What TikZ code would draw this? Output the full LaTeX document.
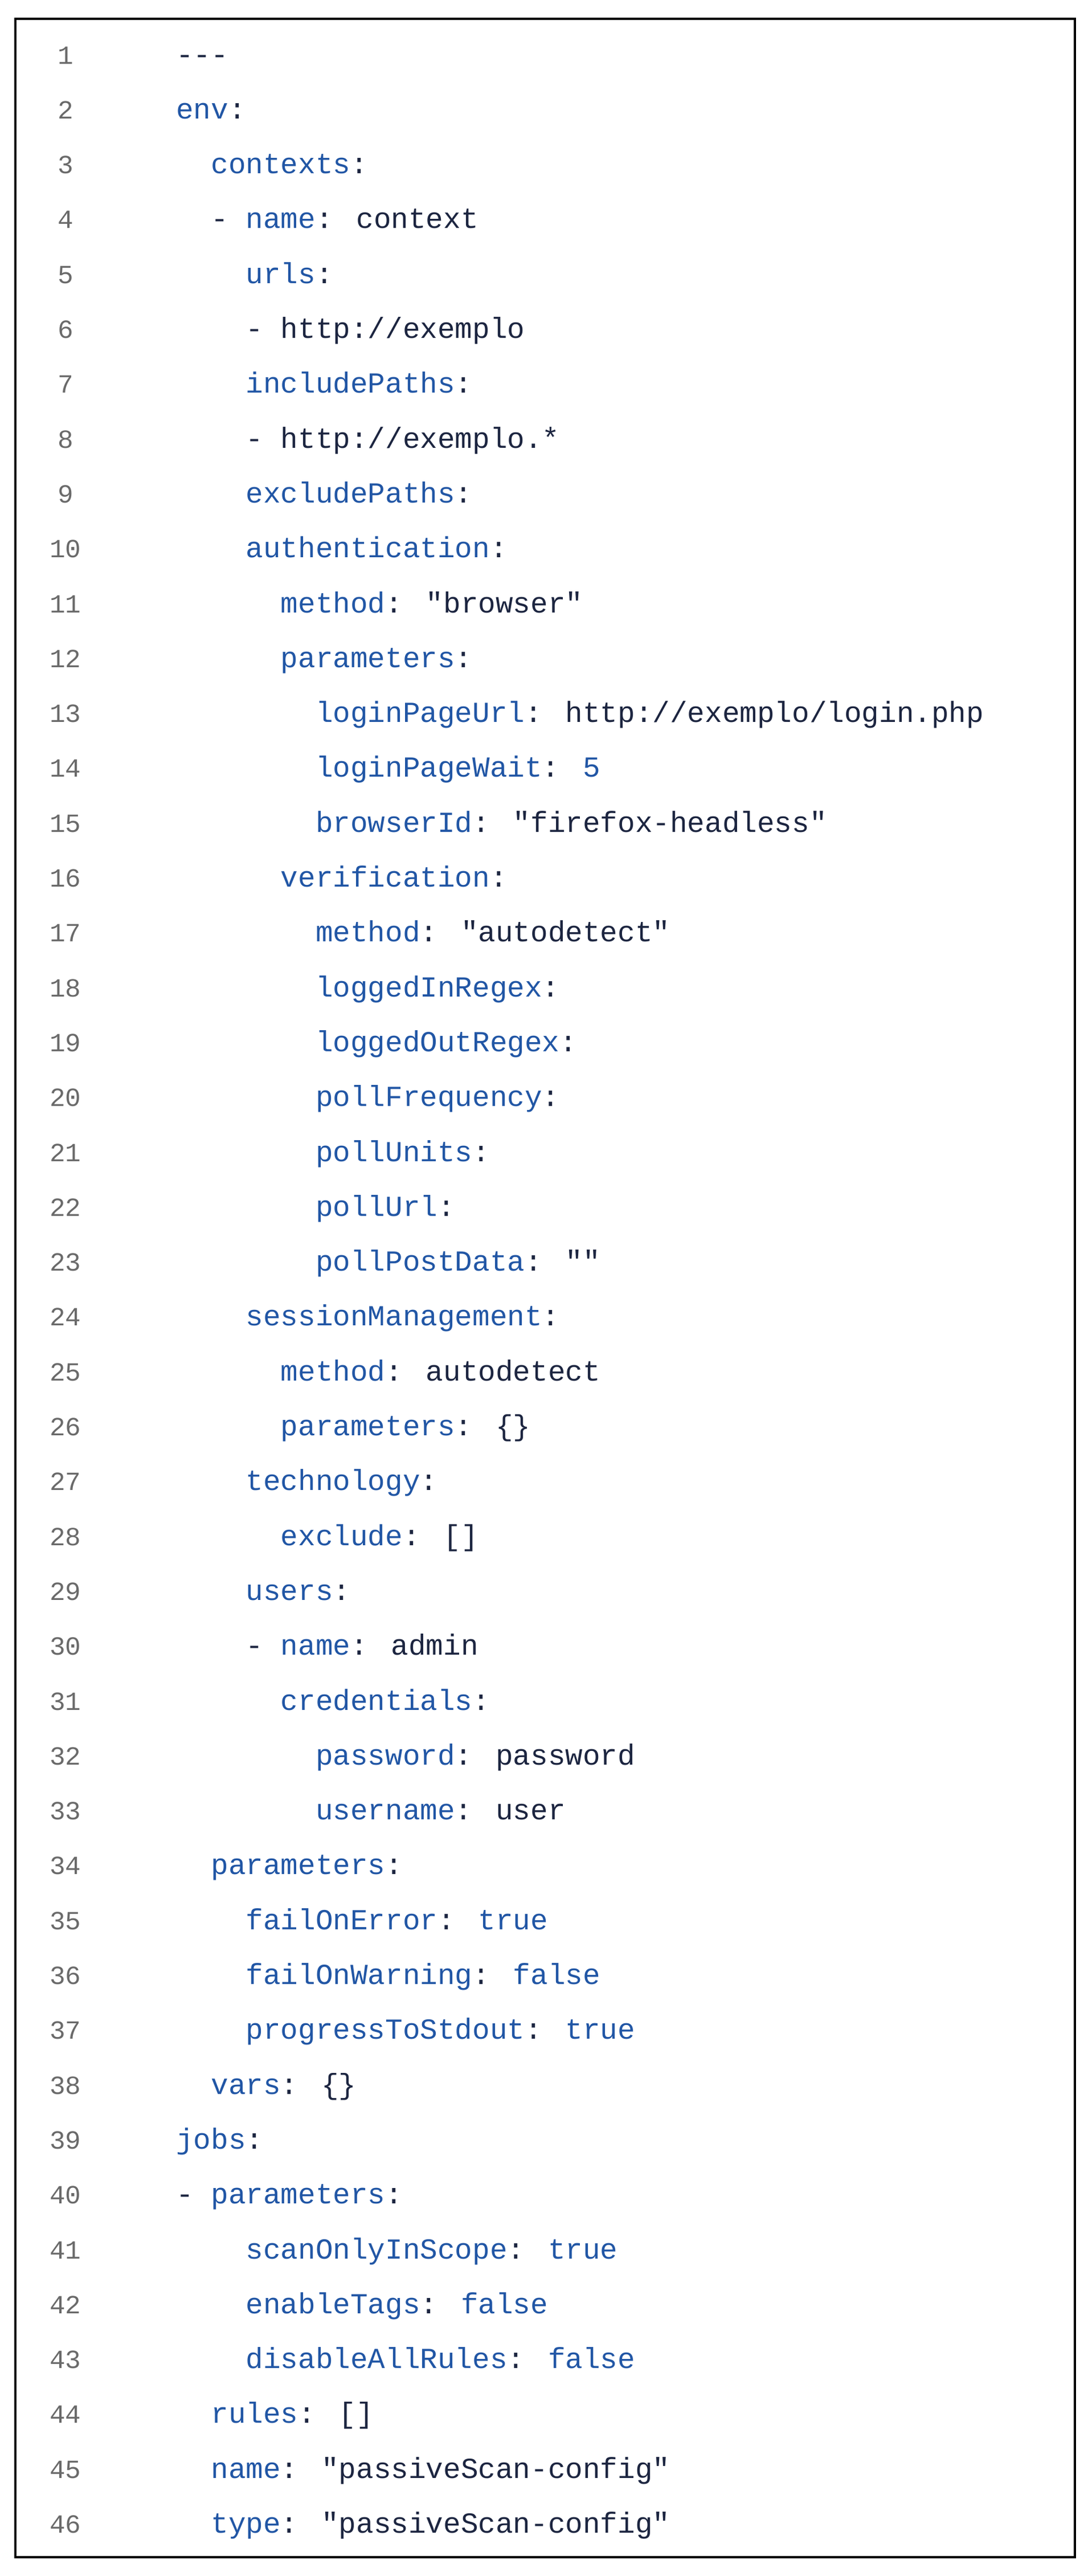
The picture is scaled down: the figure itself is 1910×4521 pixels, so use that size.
\documentclass[tikz,border=0pt]{standalone}
\usepackage{fontspec}
\newfontfamily\codefont{Liberation Mono}
\definecolor{keyc}{HTML}{2156A5}
\definecolor{valc}{HTML}{1C2540}
\definecolor{numc}{HTML}{6A6A6A}
\newcommand\K[1]{\textcolor{keyc}{#1}}
\newcommand\B[1]{\textcolor{keyc}{#1}}
\begin{document}
\begin{tikzpicture}[x=1pt,y=-1pt,
  code/.style={anchor=base west,inner sep=0pt,font=\codefont\fontsize{51}{51}\selectfont,text=valc},
  num/.style={anchor=base,inner sep=0pt,font=\codefont\fontsize{46}{46}\selectfont,text=numc}]
\useasboundingbox (0,0) rectangle (1910,4521);
\draw[line width=3.5pt] (27,33) rectangle (1887,4488);
\newcommand\cl[3]{%
  \node[num] (n#1) at (115,{112+(#1-1)*96.3}) {#1};
  \node[code] (c#1) at ({309+#2*30.6},{112+(#1-1)*96.3}) {#3};}
\cl{1}{0}{-{}-{}-}
\cl{2}{0}{\K{env}:}
\cl{3}{2}{\K{contexts}:}
\cl{4}{2}{- \K{name}: context}
\cl{5}{4}{\K{urls}:}
\cl{6}{4}{- http://exemplo}
\cl{7}{4}{\K{includePaths}:}
\cl{8}{4}{- http://exemplo.*}
\cl{9}{4}{\K{excludePaths}:}
\cl{10}{4}{\K{authentication}:}
\cl{11}{6}{\K{method}: "browser"}
\cl{12}{6}{\K{parameters}:}
\cl{13}{8}{\K{loginPageUrl}: http://exemplo/login.php}
\cl{14}{8}{\K{loginPageWait}: \B{5}}
\cl{15}{8}{\K{browserId}: "firefox-headless"}
\cl{16}{6}{\K{verification}:}
\cl{17}{8}{\K{method}: "autodetect"}
\cl{18}{8}{\K{loggedInRegex}:}
\cl{19}{8}{\K{loggedOutRegex}:}
\cl{20}{8}{\K{pollFrequency}:}
\cl{21}{8}{\K{pollUnits}:}
\cl{22}{8}{\K{pollUrl}:}
\cl{23}{8}{\K{pollPostData}: ""}
\cl{24}{4}{\K{sessionManagement}:}
\cl{25}{6}{\K{method}: autodetect}
\cl{26}{6}{\K{parameters}: \{\}}
\cl{27}{4}{\K{technology}:}
\cl{28}{6}{\K{exclude}: []}
\cl{29}{4}{\K{users}:}
\cl{30}{4}{- \K{name}: admin}
\cl{31}{6}{\K{credentials}:}
\cl{32}{8}{\K{password}: password}
\cl{33}{8}{\K{username}: user}
\cl{34}{2}{\K{parameters}:}
\cl{35}{4}{\K{failOnError}: \B{true}}
\cl{36}{4}{\K{failOnWarning}: \B{false}}
\cl{37}{4}{\K{progressToStdout}: \B{true}}
\cl{38}{2}{\K{vars}: \{\}}
\cl{39}{0}{\K{jobs}:}
\cl{40}{0}{- \K{parameters}:}
\cl{41}{4}{\K{scanOnlyInScope}: \B{true}}
\cl{42}{4}{\K{enableTags}: \B{false}}
\cl{43}{4}{\K{disableAllRules}: \B{false}}
\cl{44}{2}{\K{rules}: []}
\cl{45}{2}{\K{name}: "passiveScan-config"}
\cl{46}{2}{\K{type}: "passiveScan-config"}
\end{tikzpicture}
\end{document}
